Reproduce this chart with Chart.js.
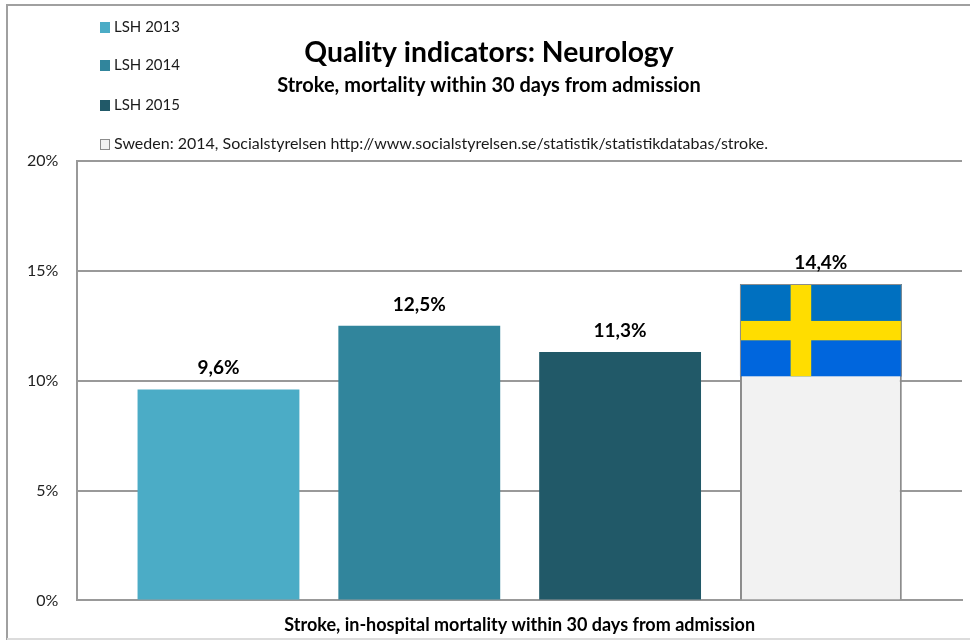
<!DOCTYPE html>
<html><head><meta charset="utf-8">
<style>html,body{margin:0;padding:0;background:#fff}#w{width:970px;height:640px;position:relative}</style>
<script src="https://cdn.jsdelivr.net/npm/chart.js@4"></script></head>
<body><div id="w"><canvas id="c" width="970" height="640"></canvas></div>
<script>
const categories = ["Stroke, in-hospital mortality within 30 days from admission"];
const seriesNames = ["LSH 2013","LSH 2014","LSH 2015","Sweden: 2014, Socialstyrelsen http://www.socialstyrelsen.se/statistik/statistikdatabas/stroke."];
const lsh2013 = [9.6];
const lsh2014 = [12.5];
const lsh2015 = [11.3];
const sweden = [14.4];
const flagBottomValue = 10.2;
const valueLabels = ["9,6%","12,5%","11,3%","14,4%"];
const seriesColors = ["#4bacc6","#31859c","#215968","#f2f2f2"];
const FONT = "Lato, 'Open Sans', sans-serif";

const frame = {id:'frame',beforeDraw(ch){const c=ch.ctx;c.save();
  c.fillStyle='#fff';c.fillRect(0,0,970,640);
  c.strokeStyle='#a0a0a0';c.lineWidth=2;
  c.beginPath();c.moveTo(7,640);c.lineTo(7,5);c.lineTo(970,5);c.stroke();
  c.strokeStyle='#dcdcdc';c.beginPath();c.moveTo(7,639);c.lineTo(970,639);c.stroke();c.restore();}};

const flag = {id:'flag',afterDatasetsDraw(ch){
  const el=ch.getDatasetMeta(3).data[0];const y=ch.scales.y;const c=ch.ctx;
  const l=el.x-el.width/2,w=el.width,t=el.y,b=y.getPixelForValue(flagBottomValue),h=b-t;
  c.save();
  c.fillStyle='#0070c0';c.fillRect(l,t,w,h*0.5);
  c.fillStyle='#0066dd';c.fillRect(l,t+h*0.5,w,h*0.5);
  c.fillStyle='#ffdd00';c.fillRect(l,t+h*0.40,w,h*0.21);c.fillRect(l+w*0.313,t,w*0.127,h);
  c.strokeStyle='#8c8c8c';c.lineWidth=1;
  c.beginPath();c.moveTo(l+.5,b);c.lineTo(l+.5,t+.5);c.lineTo(l+w-.5,t+.5);c.lineTo(l+w-.5,b);c.stroke();
  c.restore();}};

const labels = {id:'labels',afterDraw(ch){const c=ch.ctx;c.save();
  c.textAlign='center';c.textBaseline='alphabetic';c.fillStyle='#000';c.font="bold 19px "+FONT;
  ch.data.datasets.forEach((d,i)=>{const el=ch.getDatasetMeta(i).data[0];c.fillText(valueLabels[i],el.x,el.y-15);});
  const ys=[27,65,105,144];
  c.textAlign='left';c.textBaseline='middle';
  ch.data.datasets.forEach((d,i)=>{
    c.fillStyle=d.backgroundColor;c.fillRect(100,ys[i]-5,10,11);
    if(i===3){c.strokeStyle='#8c8c8c';c.lineWidth=1;c.strokeRect(100.5,ys[i]-4.5,9,10);}
    c.font=(i===3?16:15)+"px "+FONT;
    c.fillStyle='#1a1a1a';c.fillText(d.label,114,ys[i]);
  });
  c.restore();}};

const mk=(i,data)=>({label:seriesNames[i],data,backgroundColor:seriesColors[i],
  borderColor:i===3?'#8c8c8c':seriesColors[i],borderWidth:i===3?2:0,
  categoryPercentage:0.908,barPercentage:0.806});

new Chart(document.getElementById('c'),{type:'bar',
 data:{labels:categories,datasets:[mk(0,lsh2013),mk(1,lsh2014),mk(2,lsh2015),mk(3,sweden)]},
 plugins:[frame,flag,labels],
 options:{responsive:false,animation:false,
  layout:{padding:{left:16,right:8,top:0,bottom:0}},
  plugins:{legend:{display:false},tooltip:{enabled:false},
   title:{display:true,text:"Quality indicators: Neurology",color:'#000',font:{family:FONT,size:28.3,weight:'bold'},padding:{top:36,bottom:4}},
   subtitle:{display:true,text:"Stroke, mortality within 30 days from admission",color:'#000',font:{family:FONT,size:20,weight:'bold'},padding:{top:0,bottom:63}}},
  scales:{
   x:{afterFit:s=>{s.height-=2;},grid:{display:false},border:{color:'#999',width:2},ticks:{color:'#000',font:{family:FONT,size:18,weight:'bold'},padding:6}},
   y:{min:0,max:20,afterFit:s=>{s.width-=8;},ticks:{stepSize:5,color:'#222',font:{family:FONT,size:16},padding:19,callback:v=>v+'%'},
      grid:{color:'#999',lineWidth:2,drawTicks:false},border:{color:'#999',width:2}}
  }}});
</script></body></html>
